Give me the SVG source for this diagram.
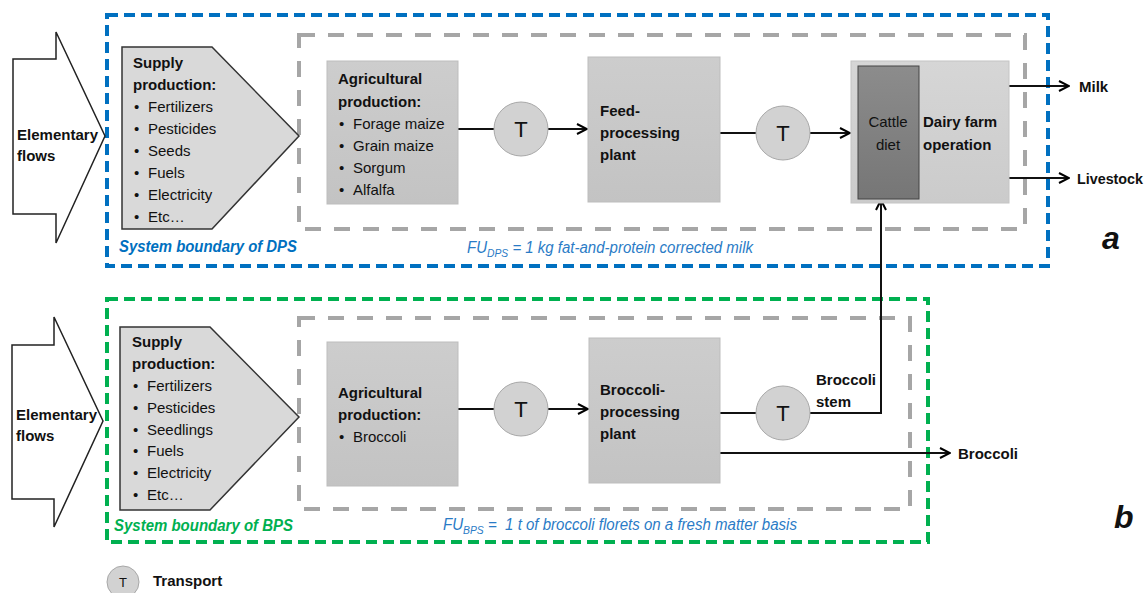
<svg xmlns="http://www.w3.org/2000/svg" width="1147" height="593" viewBox="0 0 1147 593">
<defs>
<linearGradient id="gbox" x1="0" y1="0" x2="0" y2="1">
<stop offset="0" stop-color="#cdcdcd"/><stop offset="1" stop-color="#c3c3c3"/>
</linearGradient>
<linearGradient id="glight" x1="0" y1="0" x2="0" y2="1">
<stop offset="0" stop-color="#d6d6d6"/><stop offset="1" stop-color="#cbcbcb"/>
</linearGradient>
<linearGradient id="gdark" x1="0" y1="0" x2="0" y2="1">
<stop offset="0" stop-color="#8c8c8c"/><stop offset="1" stop-color="#767676"/>
</linearGradient>
<marker id="arr" viewBox="0 0 12 12" refX="11" refY="6" markerWidth="12" markerHeight="12" markerUnits="userSpaceOnUse" orient="auto">
<path d="M1,1 L11,6 L1,11" fill="none" stroke="#000" stroke-width="2"/>
</marker>
<style>
text{font-family:"Liberation Sans",Arial,sans-serif;fill:#111}
.b{font-weight:bold;font-size:15px}
.r{font-size:15px}
.box{fill:url(#gbox);stroke:#bdbdbd;stroke-width:1}
.pent{fill:#d9d9d9;stroke:#333;stroke-width:1.5}
.ef{fill:#fff;stroke:#222;stroke-width:1.5}
.circ{fill:#d2d2d2;stroke:#a8a8a8;stroke-width:1}
.tl{font-size:22px;text-anchor:middle}
.ln{fill:none;stroke:#111;stroke-width:2}
.blue{fill:none;stroke:#0070c0;stroke-width:4;stroke-dasharray:11 6}
.green{fill:none;stroke:#00b050;stroke-width:4;stroke-dasharray:11 6}
.gray{fill:none;stroke:#a6a6a6;stroke-width:4;stroke-dasharray:16 13}
.fu{font-style:italic;font-size:16px;fill:#2a7bc6}
.sbb{font-style:italic;font-weight:bold;font-size:16px;fill:#0070c0}
.sbg{font-style:italic;font-weight:bold;font-size:16px;fill:#00b050}
.big{font-style:italic;font-weight:bold;font-size:32px}
</style>
</defs>
<rect width="1147" height="593" fill="#fff"/>

<g id="boundaries">
<rect class="blue" x="107" y="15" width="941" height="251"/>
<rect class="gray" x="299" y="35" width="726" height="194"/>
<rect class="green" x="107" y="299" width="821" height="243"/>
<rect class="gray" x="299" y="318" width="611" height="191"/>
<text class="sbb" x="119" y="252" textLength="178" lengthAdjust="spacingAndGlyphs">System boundary of DPS</text>
<text class="fu" x="467" y="253" textLength="286" lengthAdjust="spacingAndGlyphs">FU<tspan font-size="11" dy="4">DPS</tspan><tspan dy="-4"> = 1 kg fat-and-protein corrected milk</tspan></text>
<text class="sbg" x="114" y="531" textLength="179" lengthAdjust="spacingAndGlyphs">System boundary of BPS</text>
<text class="fu" x="443" y="530" textLength="354" lengthAdjust="spacingAndGlyphs">FU<tspan font-size="11" dy="4">BPS</tspan><tspan dy="-4"> = &#160;1 t of broccoli florets on a fresh matter basis</tspan></text>
<text class="big" x="1102" y="249">a</text>
<text class="big" x="1114" y="528">b</text>
</g>

<g id="connectors">
<line class="ln" x1="458" y1="129" x2="494" y2="129"/>
<line class="ln" x1="548" y1="129" x2="587" y2="129" marker-end="url(#arr)"/>
<line class="ln" x1="720" y1="133" x2="756" y2="133"/>
<line class="ln" x1="810" y1="133" x2="850" y2="133" marker-end="url(#arr)"/>
<line class="ln" x1="1009" y1="86" x2="1069" y2="86" marker-end="url(#arr)"/>
<line class="ln" x1="1009" y1="178" x2="1069" y2="178" marker-end="url(#arr)"/>
<line class="ln" x1="458" y1="409" x2="494" y2="409"/>
<line class="ln" x1="548" y1="409" x2="588" y2="409" marker-end="url(#arr)"/>
<line class="ln" x1="720" y1="413" x2="756" y2="413"/>
<polyline class="ln" points="810,413 881,413 881,200" marker-end="url(#arr)"/>
<line class="ln" x1="720" y1="453" x2="950" y2="453" marker-end="url(#arr)"/>
<text class="b" x="1079" y="92">Milk</text>
<text class="b" x="1077" y="184" textLength="66" lengthAdjust="spacingAndGlyphs">Livestock</text>
<text class="b" x="816" y="385">Broccoli</text>
<text class="b" x="816" y="407">stem</text>
<text class="b" x="958" y="459">Broccoli</text>
</g>

<g id="ef-top">
<path class="ef" d="M13,59 L56,59 L56,32 L105,136 L56,243 L56,214 L13,214 Z"/>
<text class="b" x="17" y="140" textLength="81" lengthAdjust="spacingAndGlyphs">Elementary</text>
<text class="b" x="17" y="161">flows</text>
</g>

<g id="supply-top">
<path class="pent" d="M122,47 L212,47 L299,136 L212,229 L122,229 Z"/>
<text class="b" x="133" y="68">Supply</text>
<text class="b" x="133" y="90">production:</text>
<text class="r" x="134" y="112">•</text><text class="r" x="148" y="112">Fertilizers</text>
<text class="r" x="134" y="134">•</text><text class="r" x="148" y="134">Pesticides</text>
<text class="r" x="134" y="156">•</text><text class="r" x="148" y="156">Seeds</text>
<text class="r" x="134" y="178">•</text><text class="r" x="148" y="178">Fuels</text>
<text class="r" x="134" y="200">•</text><text class="r" x="148" y="200">Electricity</text>
<text class="r" x="134" y="222">•</text><text class="r" x="148" y="222">Etc…</text>
</g>

<g id="agri-top">
<rect class="box" x="327" y="61" width="131" height="143"/>
<text class="b" x="338" y="84">Agricultural</text>
<text class="b" x="338" y="107">production:</text>
<text class="r" x="339" y="129">•</text><text class="r" x="353" y="129">Forage maize</text>
<text class="r" x="339" y="151">•</text><text class="r" x="353" y="151">Grain maize</text>
<text class="r" x="339" y="173">•</text><text class="r" x="353" y="173">Sorgum</text>
<text class="r" x="339" y="195">•</text><text class="r" x="353" y="195">Alfalfa</text>
</g>

<g id="t1-top">
<circle class="circ" cx="521" cy="129" r="27"/>
<text class="tl" x="521" y="137">T</text>
</g>

<g id="feed">
<rect class="box" x="588" y="57" width="132" height="145"/>
<text class="b" x="600" y="116">Feed-</text>
<text class="b" x="600" y="138">processing</text>
<text class="b" x="600" y="160">plant</text>
</g>

<g id="t2-top">
<circle class="circ" cx="783" cy="133" r="27"/>
<text class="tl" x="783" y="141">T</text>
</g>

<g id="dairy">
<rect x="851" y="61" width="158" height="142" fill="url(#glight)" stroke="#c4c4c4" stroke-width="1"/>
<rect x="858" y="66" width="61" height="133" fill="url(#gdark)" stroke="#444" stroke-width="1"/>
<text class="r" x="888" y="127" text-anchor="middle">Cattle</text>
<text class="r" x="888" y="150" text-anchor="middle">diet</text>
<text class="b" x="923" y="127">Dairy farm</text>
<text class="b" x="923" y="150">operation</text>
</g>

<g id="ef-bottom">
<path class="ef" d="M12,345 L54,345 L54,317 L103,421 L54,527 L54,499 L12,499 Z"/>
<text class="b" x="16" y="420" textLength="81" lengthAdjust="spacingAndGlyphs">Elementary</text>
<text class="b" x="16" y="441">flows</text>
</g>

<g id="supply-bottom">
<path class="pent" d="M120,327 L210,327 L299,417 L210,510 L120,510 Z"/>
<text class="b" x="132" y="347">Supply</text>
<text class="b" x="132" y="369">production:</text>
<text class="r" x="133" y="391">•</text><text class="r" x="147" y="391">Fertilizers</text>
<text class="r" x="133" y="413">•</text><text class="r" x="147" y="413">Pesticides</text>
<text class="r" x="133" y="435">•</text><text class="r" x="147" y="435">Seedlings</text>
<text class="r" x="133" y="456">•</text><text class="r" x="147" y="456">Fuels</text>
<text class="r" x="133" y="478">•</text><text class="r" x="147" y="478">Electricity</text>
<text class="r" x="133" y="500">•</text><text class="r" x="147" y="500">Etc…</text>
</g>

<g id="agri-bottom">
<rect class="box" x="327" y="342" width="131" height="144"/>
<text class="b" x="338" y="398">Agricultural</text>
<text class="b" x="338" y="420">production:</text>
<text class="r" x="339" y="442">•</text><text class="r" x="353" y="442">Broccoli</text>
</g>

<g id="t1-bottom">
<circle class="circ" cx="521" cy="409" r="27"/>
<text class="tl" x="521" y="417">T</text>
</g>

<g id="broccoli-plant">
<rect class="box" x="589" y="338" width="131" height="145"/>
<text class="b" x="600" y="395">Broccoli-</text>
<text class="b" x="600" y="417">processing</text>
<text class="b" x="600" y="439">plant</text>
</g>

<g id="t2-bottom">
<circle class="circ" cx="783" cy="413" r="27"/>
<text class="tl" x="783" y="421">T</text>
</g>

<g id="legend">
<circle class="circ" cx="123" cy="582" r="16"/>
<text x="123" y="587" font-size="13" text-anchor="middle">T</text>
<text class="b" x="153" y="586" font-size="17">Transport</text>
</g>
</svg>
